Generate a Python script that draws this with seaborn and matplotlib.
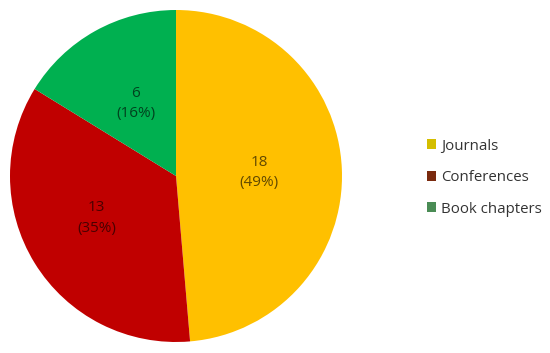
import matplotlib
matplotlib.use("Agg")
import matplotlib.pyplot as plt
from matplotlib.patches import Patch
import seaborn as sns

categories = ["Journals", "Conferences", "Book chapters"]
counts = [18, 13, 6]
slice_colors = ["#FFC000", "#C00000", "#00B050"]
legend_colors = ["#D4BE00", "#7A2A0E", "#4A8C55"]

sns.set_theme(style="white")
plt.rcParams["font.family"] = ["Open Sans", "DejaVu Sans"]

W, H = 550, 353
fig = plt.figure(figsize=(W / 100, H / 100), dpi=100)
cx, cy, r = 176, 176, 166
ax = fig.add_axes([(cx - r) / W, (H - cy - r) / H, 2 * r / W, 2 * r / H])

total = sum(counts)
labels = [f"{v}\n({round(100 * v / total)}%)" for v in counts]
wedges, texts = ax.pie(counts, colors=slice_colors, startangle=90, counterclock=False,
                       labels=labels, labeldistance=0.5, radius=1.0,
                       wedgeprops=dict(linewidth=0),
                       textprops=dict(fontsize=11, color=(0, 0, 0, 0.62), ha="center", va="center",
                                      linespacing=1.5))
# nudge the Conferences label slightly leftward, as in the reference
x, y = texts[1].get_position()
texts[1].set_position((x * 1.12, y * 0.96))

ax.set_xlim(-1, 1)
ax.set_ylim(-1, 1)
ax.axis("off")

handles = [Patch(facecolor=c, edgecolor="none") for c in legend_colors]
fig.legend(handles, categories, loc="center left", bbox_to_anchor=(413 / W, 0.497),
           frameon=False, fontsize=10.8, labelspacing=1.1, handlelength=0.62,
           handleheight=0.62, handletextpad=0.35, labelcolor="#333333")

fig.savefig("out.png", dpi=100)
